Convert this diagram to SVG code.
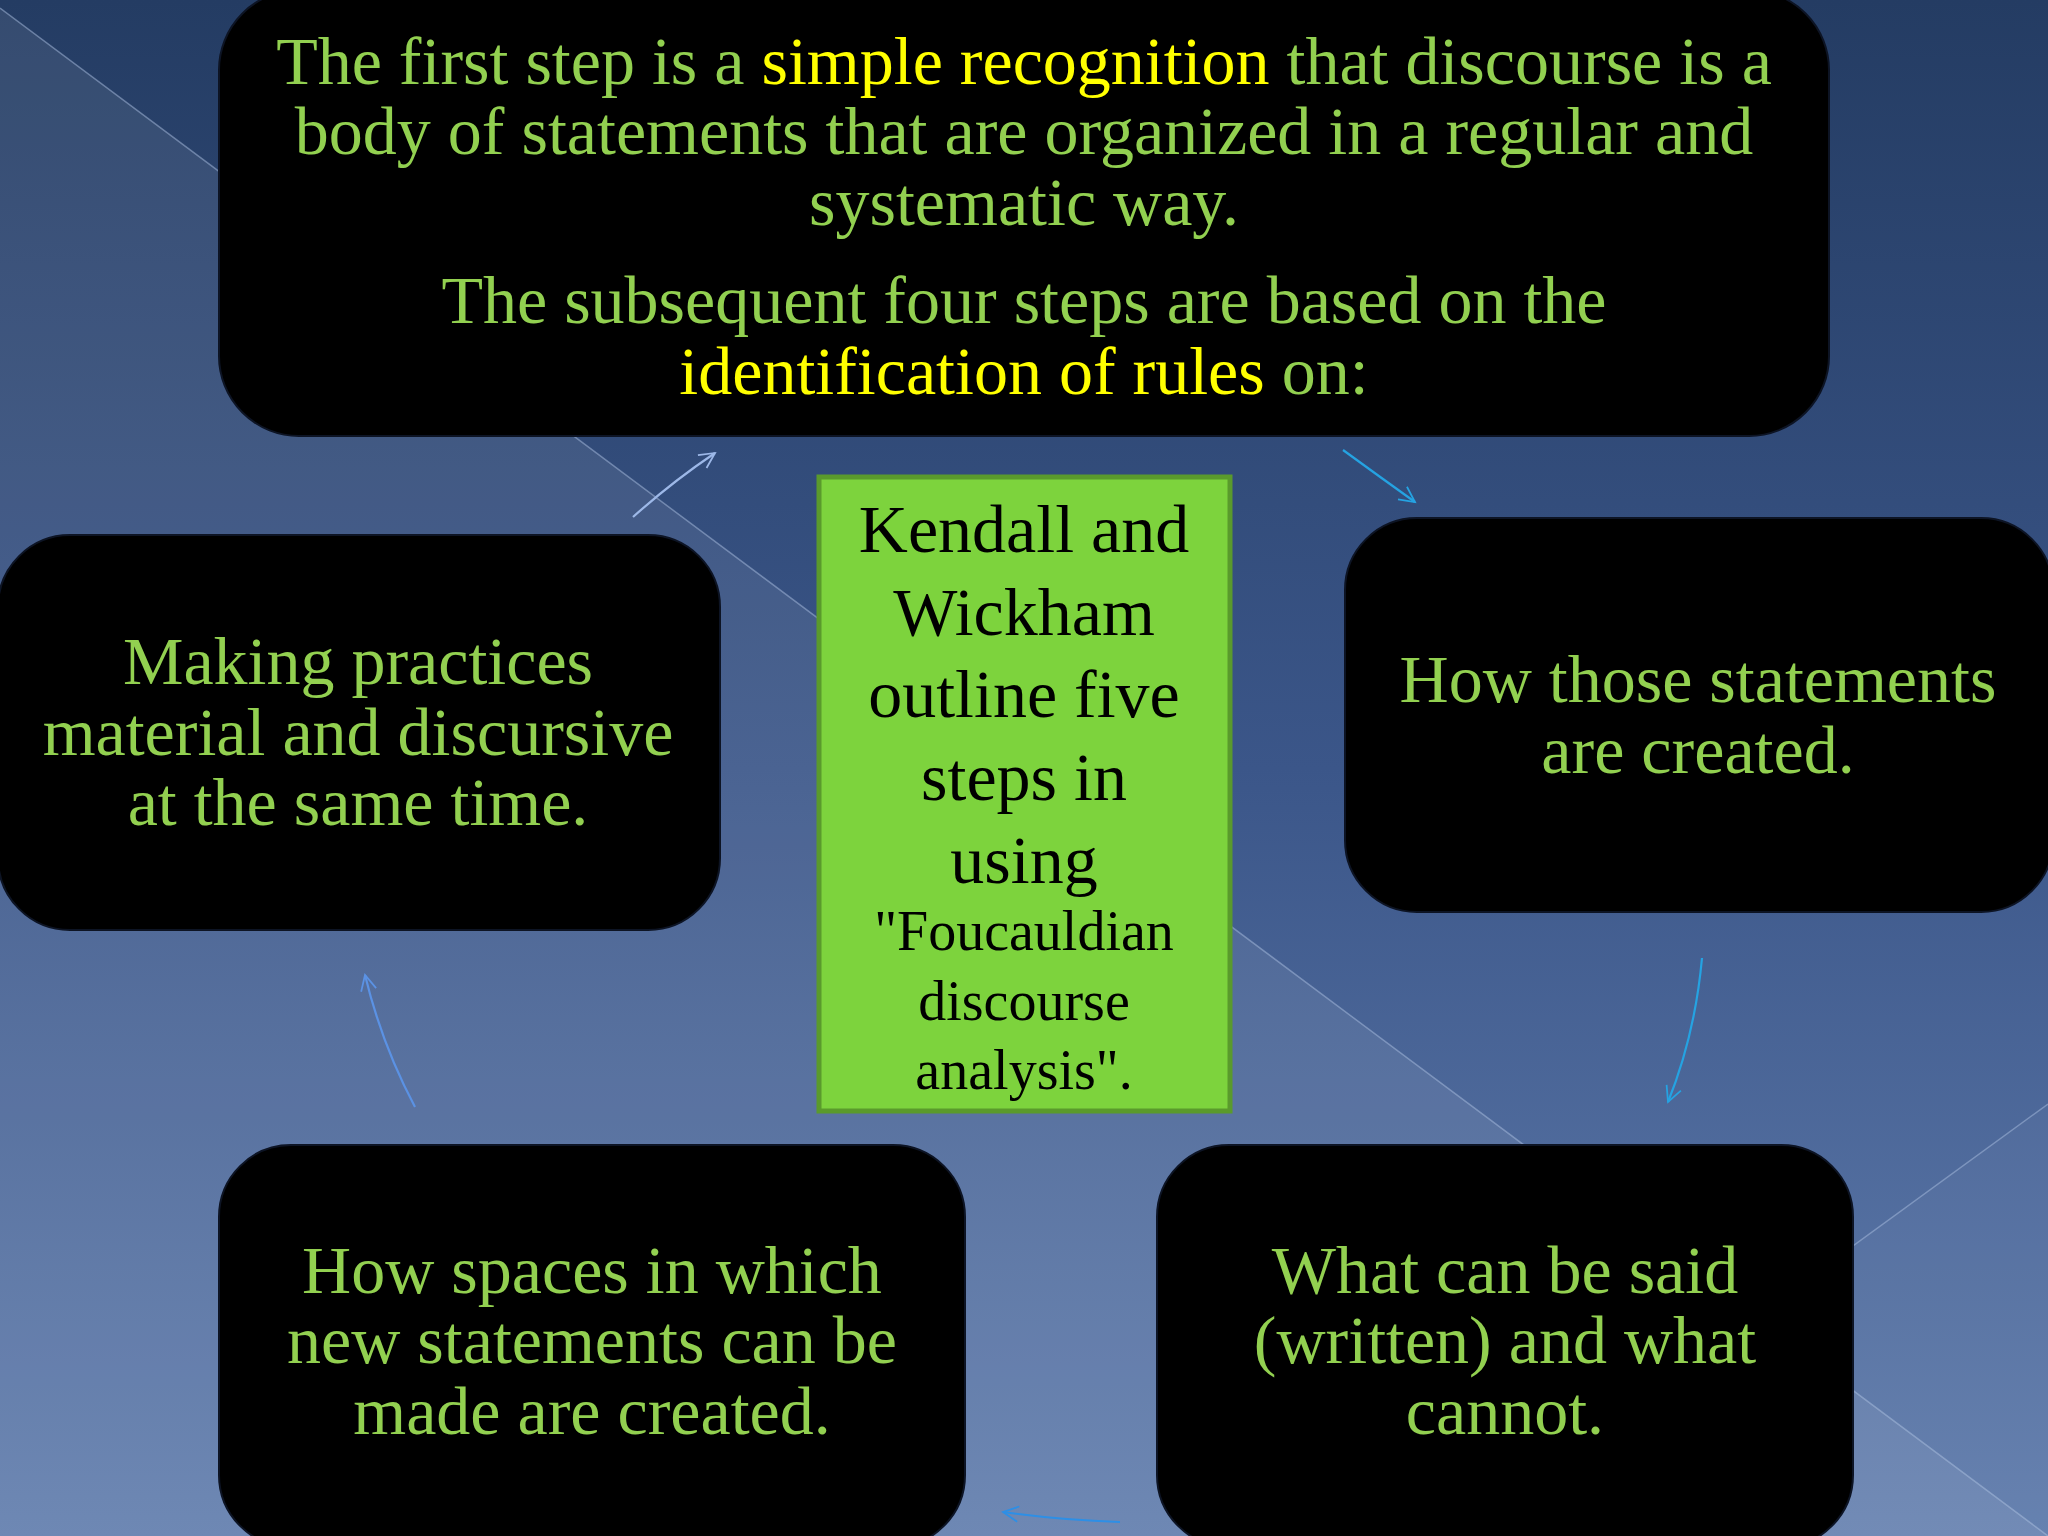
<svg xmlns="http://www.w3.org/2000/svg" width="2048" height="1536" viewBox="0 0 2048 1536">
  <defs>
    <linearGradient id="bg" x1="0" y1="0" x2="0" y2="1">
      <stop offset="0" stop-color="#243C63"/>
      <stop offset="0.5" stop-color="#3B5689"/>
      <stop offset="1" stop-color="#627EAE"/>
    </linearGradient>
    <marker id="ah1" viewBox="0 0 20 20" refX="18" refY="10" markerWidth="22" markerHeight="22" markerUnits="userSpaceOnUse" orient="auto">
      <path d="M4,3 L18,10 L4,17" fill="none" stroke="#9DB8E8" stroke-width="1.6"/>
    </marker>
    <marker id="ah2" viewBox="0 0 20 20" refX="18" refY="10" markerWidth="22" markerHeight="22" markerUnits="userSpaceOnUse" orient="auto">
      <path d="M4,3 L18,10 L4,17" fill="none" stroke="#25A3E2" stroke-width="1.6"/>
    </marker>
    <marker id="ah3" viewBox="0 0 20 20" refX="18" refY="10" markerWidth="22" markerHeight="22" markerUnits="userSpaceOnUse" orient="auto">
      <path d="M4,3 L18,10 L4,17" fill="none" stroke="#2D8FE6" stroke-width="1.6"/>
    </marker>
    <marker id="ah4" viewBox="0 0 20 20" refX="18" refY="10" markerWidth="22" markerHeight="22" markerUnits="userSpaceOnUse" orient="auto">
      <path d="M4,3 L18,10 L4,17" fill="none" stroke="#5B92E4" stroke-width="1.6"/>
    </marker>
    <style>
      .box { fill: #000000; stroke: #0D1424; stroke-width: 2; }
      .t { font-family: "Liberation Serif", "Times New Roman", serif; font-size: 68px; fill: #92D050; text-anchor: middle; }
      .y { fill: #FFFF00; }
      .k { font-family: "Liberation Serif", "Times New Roman", serif; fill: #000000; text-anchor: middle; }
      .conn { fill: none; stroke-width: 2.2; }
    </style>
  </defs>

  <!-- background -->
  <rect x="0" y="0" width="2048" height="1536" fill="url(#bg)"/>
  <polygon points="0,8 2048,1536 0,1536" fill="#FFFFFF" fill-opacity="0.08"/>
  <line x1="0" y1="8" x2="2048" y2="1536" stroke="#A9BEE0" stroke-opacity="0.5" stroke-width="1.5"/>
  <polygon points="1600,1430 2048,1104 2048,1536 1740,1536" fill="#FFFFFF" fill-opacity="0.03"/>
  <line x1="1600" y1="1430" x2="2048" y2="1104" stroke="#A9BEE0" stroke-opacity="0.5" stroke-width="1.5"/>

  <!-- connectors -->
  <g id="connectors">
    <path class="conn" d="M633,517 Q672,482 715,453" stroke="#9DB8E8" marker-end="url(#ah1)"/>
    <path class="conn" d="M1343,450 Q1380,477 1415,502" stroke="#25A3E2" marker-end="url(#ah2)"/>
    <path class="conn" d="M1702,958 Q1695,1035 1668,1102" stroke="#25A3E2" marker-end="url(#ah2)"/>
    <path class="conn" d="M1120,1522 Q1060,1520 1003,1512" stroke="#2D8FE6" marker-end="url(#ah3)"/>
    <path class="conn" d="M415,1107 Q382,1045 365,975" stroke="#5B92E4" marker-end="url(#ah4)"/>
  </g>

  <!-- top node -->
  <g id="node-top">
    <rect class="box" x="219" y="-10" width="1610" height="446" rx="80" ry="80"/>
    <text class="t" x="1024" y="84">The first step is a <tspan class="y">simple recognition</tspan> that discourse is a</text>
    <text class="t" x="1024" y="154">body of statements that are organized in a regular and</text>
    <text class="t" x="1024" y="225">systematic way.</text>
    <text class="t" x="1024" y="323">The subsequent four steps are based on the</text>
    <text class="t" x="1024" y="394"><tspan class="y">identification of rules</tspan> on:</text>
  </g>

  <!-- left node -->
  <g id="node-left">
    <rect class="box" x="-2" y="535" width="722" height="395" rx="72" ry="72"/>
    <text class="t" x="358" y="684">Making practices</text>
    <text class="t" x="358" y="755">material and discursive</text>
    <text class="t" x="358" y="825">at the same time.</text>
  </g>

  <!-- right node -->
  <g id="node-right">
    <rect class="box" x="1345" y="518" width="708" height="394" rx="72" ry="72"/>
    <text class="t" x="1698" y="702">How those statements</text>
    <text class="t" x="1698" y="773">are created.</text>
  </g>

  <!-- bottom left node -->
  <g id="node-bottom-left">
    <rect class="box" x="219" y="1145" width="746" height="402" rx="72" ry="72"/>
    <text class="t" x="592" y="1293">How spaces in which</text>
    <text class="t" x="592" y="1363">new statements can be</text>
    <text class="t" x="592" y="1434">made are created.</text>
  </g>

  <!-- bottom right node -->
  <g id="node-bottom-right">
    <rect class="box" x="1157" y="1145" width="696" height="402" rx="72" ry="72"/>
    <text class="t" x="1505" y="1293">What can be said</text>
    <text class="t" x="1505" y="1363">(written) and what</text>
    <text class="t" x="1505" y="1434">cannot.</text>
  </g>

  <!-- center node -->
  <g id="node-center">
    <rect x="819" y="477" width="411" height="634" fill="#7DD33D" stroke="#5A9A2C" stroke-width="5"/>
    <text class="k" x="1024" y="552" font-size="68">Kendall and</text>
    <text class="k" x="1024" y="635" font-size="68">Wickham</text>
    <text class="k" x="1024" y="717" font-size="68">outline five</text>
    <text class="k" x="1024" y="800" font-size="68">steps in</text>
    <text class="k" x="1024" y="883" font-size="68">using</text>
    <text class="k" x="1024" y="950" font-size="56">"Foucauldian</text>
    <text class="k" x="1024" y="1020" font-size="56">discourse</text>
    <text class="k" x="1024" y="1089" font-size="56">analysis".</text>
  </g>
</svg>
